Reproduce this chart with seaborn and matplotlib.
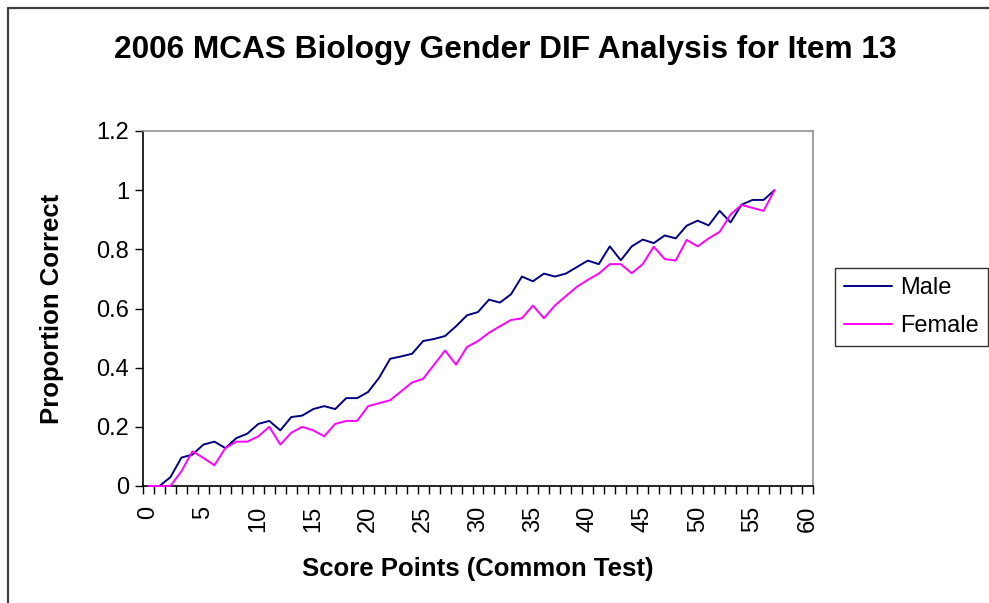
import numpy as np
import pandas as pd
import seaborn as sns
import matplotlib
matplotlib.use("Agg")
import matplotlib.pyplot as plt
from matplotlib.lines import Line2D

score_points = list(range(0, 58))
male = [0.0, 0.0, 0.03, 0.096, 0.106, 0.14, 0.15, 0.128, 0.162, 0.177,
        0.21, 0.22, 0.188, 0.233, 0.238, 0.26, 0.27, 0.26, 0.297, 0.297,
        0.318, 0.366, 0.43, 0.438, 0.447, 0.49, 0.497, 0.507, 0.54, 0.577,
        0.588, 0.63, 0.62, 0.648, 0.708, 0.692, 0.718, 0.708, 0.718, 0.74,
        0.762, 0.75, 0.81, 0.763, 0.81, 0.833, 0.821, 0.847, 0.837, 0.88,
        0.897, 0.881, 0.93, 0.891, 0.951, 0.967, 0.967, 1.0]
female = [0.0, 0.0, 0.0, 0.05, 0.117, 0.095, 0.07, 0.128, 0.15, 0.15,
          0.168, 0.2, 0.14, 0.18, 0.2, 0.188, 0.168, 0.21, 0.22, 0.22,
          0.27, 0.28, 0.29, 0.32, 0.35, 0.362, 0.41, 0.458, 0.41, 0.47,
          0.49, 0.518, 0.54, 0.561, 0.567, 0.61, 0.567, 0.61, 0.642, 0.673,
          0.697, 0.718, 0.75, 0.75, 0.719, 0.75, 0.809, 0.767, 0.762, 0.832,
          0.81, 0.837, 0.859, 0.918, 0.95, 0.94, 0.93, 1.0]
series_names = ["Male", "Female"]
series_colors = {"Male": "#000080", "Female": "#FF00FF"}
x_tick_values = list(range(0, 61, 5))
y_tick_values = [0, 0.2, 0.4, 0.6, 0.8, 1.0, 1.2]
y_tick_labels = ["0", "0.2", "0.4", "0.6", "0.8", "1", "1.2"]

df = pd.DataFrame({
    "Score": score_points * 2,
    "Proportion": male + female,
    "Group": ["Male"] * len(male) + ["Female"] * len(female),
})

sns.set_theme(style="white")
plt.rcParams["font.family"] = ["Liberation Sans", "DejaVu Sans"]
plt.rcParams["text.color"] = "black"
plt.rcParams["axes.labelcolor"] = "black"
plt.rcParams["xtick.color"] = "black"
plt.rcParams["ytick.color"] = "black"

fig = plt.figure(figsize=(9.89, 6.03), dpi=100)
ax = fig.add_axes([143 / 989, 1 - 486 / 603, (813 - 143) / 989, (486 - 131) / 603])

sns.lineplot(data=df, x="Score", y="Proportion", hue="Group",
             hue_order=series_names, palette=series_colors, ax=ax,
             linewidth=1.4, legend=False)
for ln in ax.lines:
    ln.set_clip_on(False)
    ln.set_zorder(3)

ax.set_xlim(-0.5, 60.5)
ax.set_ylim(0, 1.2)

ax.set_xticks(x_tick_values)
ax.set_xticklabels([str(v) for v in x_tick_values], rotation=90, fontsize=17)
ax.set_xticks(np.arange(-0.5, 61, 1), minor=True)
ax.tick_params(axis="x", which="major", length=0, pad=14, colors="black")
ax.tick_params(axis="x", which="minor", length=6, width=1, color="black",
               direction="out", bottom=True)
ax.set_yticks(y_tick_values)
ax.set_yticklabels(y_tick_labels, fontsize=17)
ax.tick_params(axis="y", which="major", length=6, width=1, color="black",
               direction="out", left=True, pad=4)

for side in ["left", "bottom"]:
    ax.spines[side].set_color("black")
    ax.spines[side].set_linewidth(1.2)
for side in ["top", "right"]:
    ax.spines[side].set_color("#909090")
    ax.spines[side].set_linewidth(1.2)
ax.grid(False)

ax.set_xlabel("Score Points (Common Test)", fontsize=18.5, fontweight="bold",
              labelpad=18, color="black")
ax.set_ylabel("Proportion Correct", fontsize=18.5, fontweight="bold",
              labelpad=23, color="black")

fig.text(505 / 989, 1 - 50 / 603, "2006 MCAS Biology Gender DIF Analysis for Item 13",
         ha="center", va="center", fontsize=22.8, fontweight="bold", color="black")

handles = [Line2D([0], [0], color=series_colors[n], lw=1.4) for n in series_names]
leg = fig.legend(handles, series_names, loc="upper left",
                 bbox_to_anchor=(835 / 989, 1 - 268 / 603),
                 fontsize=17, frameon=True, fancybox=False,
                 handlelength=2.0, handletextpad=0.35, borderpad=0.4,
                 labelspacing=0.65, borderaxespad=0)
leg.get_frame().set_edgecolor("black")
leg.get_frame().set_linewidth(1.0)
for t in leg.get_texts():
    t.set_color("black")

fig.add_artist(Line2D([8 / 989, 1.0], [1 - 8 / 603, 1 - 8 / 603],
                      transform=fig.transFigure, color="#404040", lw=1.6))
fig.add_artist(Line2D([8 / 989, 8 / 989], [0, 1 - 8 / 603],
                      transform=fig.transFigure, color="#404040", lw=1.6))

fig.savefig("out.png", dpi=100)
